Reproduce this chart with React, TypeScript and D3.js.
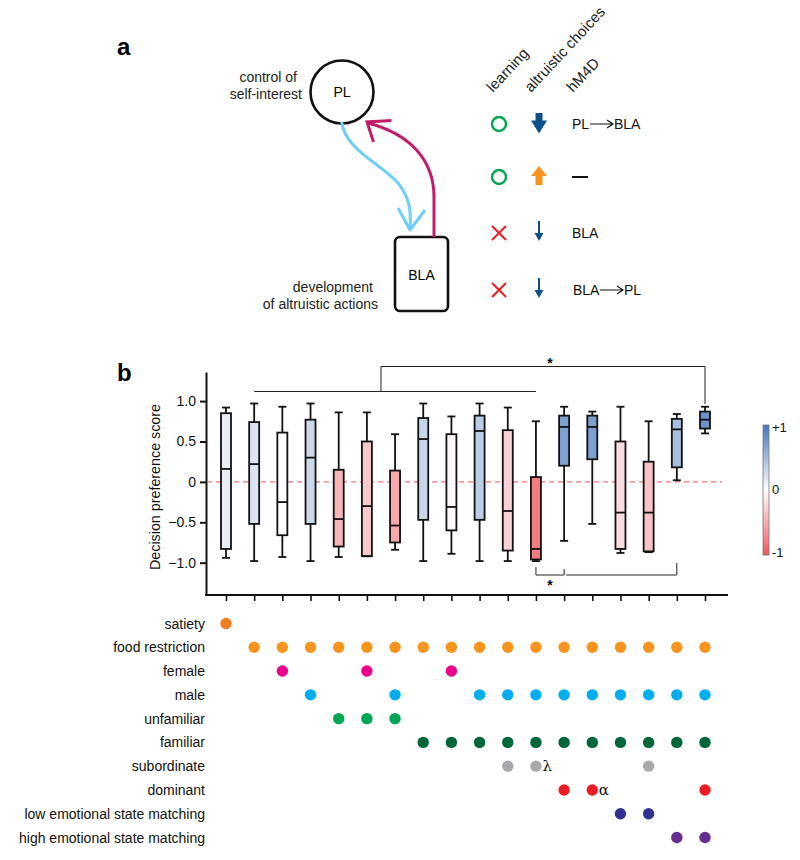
import * as d3 from "d3";
import { useEffect, useRef } from "react";

// panel b: one box per group (18 groups, left to right)
const whiskerLow = [-0.94, -0.98, -0.93, -0.98, -0.93, -0.92, -0.84, -0.98, -0.89, -0.98, -0.98, -0.98, -0.73, -0.52, -0.88, -0.87, 0.02, 0.6];
const quart1 = [-0.83, -0.52, -0.66, -0.52, -0.8, -0.92, -0.75, -0.47, -0.6, -0.47, -0.85, -0.96, 0.2, 0.28, -0.83, -0.86, 0.18, 0.66];
const medians = [0.16, 0.22, -0.25, 0.3, -0.46, -0.3, -0.54, 0.53, -0.31, 0.63, -0.36, -0.83, 0.68, 0.68, -0.38, -0.38, 0.65, 0.77];
const quart3 = [0.85, 0.74, 0.61, 0.77, 0.15, 0.5, 0.14, 0.79, 0.59, 0.82, 0.64, 0.06, 0.82, 0.82, 0.5, 0.25, 0.78, 0.87];
const whiskerHigh = [0.92, 0.97, 0.93, 0.97, 0.86, 0.86, 0.59, 0.97, 0.81, 0.97, 0.92, 0.75, 0.93, 0.87, 0.93, 0.75, 0.84, 0.93];
// score used for the box colour (colour bar -1..+1)
const colorScore = [0.12, 0.2, 0.0, 0.28, -0.45, -0.32, -0.52, 0.3, -0.05, 0.36, -0.27, -0.78, 0.7, 0.7, -0.2, -0.36, 0.48, 0.8];

const yTicks = [-1, -0.5, 0, 0.5, 1];

// experimental conditions (rows) and which groups (1-based) have them
const conditionNames = [
  "satiety", "food restriction", "female", "male", "unfamiliar", "familiar",
  "subordinate", "dominant", "low emotional state matching", "high emotional state matching",
];
const satietyGroups = [1];
const foodGroups = [2, 3, 4, 5, 6, 7, 8, 9, 10, 11, 12, 13, 14, 15, 16, 17, 18];
const femaleGroups = [3, 6, 9];
const maleGroups = [4, 7, 10, 11, 12, 13, 14, 15, 16, 17, 18];
const unfamiliarGroups = [5, 6, 7];
const familiarGroups = [8, 9, 10, 11, 12, 13, 14, 15, 16, 17, 18];
const subordinateGroups = [11, 12, 16];
const dominantGroups = [13, 14, 18];
const lowMatchGroups = [15, 16];
const highMatchGroups = [17, 18];
const conditionColors = ["#f47d22", "#f7941d", "#ec008c", "#00aeef", "#00a651", "#006838", "#a7a9ac", "#ed1c24", "#2e3192", "#662d91"];
const dotNotes = [{ row: 6, group: 12, text: "λ" }, { row: 7, group: 14, text: "α" }];

const FONT = "'Liberation Sans', Arial, Helvetica, sans-serif";

const App = () => {
  const ref = useRef<SVGSVGElement>(null);

  useEffect(() => {
    const svg = d3.select(ref.current);
    svg.selectAll("*").remove();
    svg.attr("font-family", FONT);
    drawPanelA(svg.append("g"));
    drawPanelB(svg.append("g"));
  }, []);

  return (
    <svg ref={ref} width={800} height={860} style={{ position: "absolute", left: 0, top: 0, background: "#fff" }} />
  );
};

const drawPanelA = (g: any) => {
  g.append("text").attr("x", 117).attr("y", 55).attr("font-size", 24).attr("font-weight", "bold").text("a");

  // PL node
  g.append("circle").attr("cx", 342).attr("cy", 92).attr("r", 31.5)
    .attr("fill", "none").attr("stroke", "#111").attr("stroke-width", 2.6);
  g.append("text").attr("x", 342).attr("y", 97).attr("text-anchor", "middle").attr("font-size", 14).text("PL");
  g.append("text").attr("x", 297).attr("y", 82).attr("text-anchor", "end").attr("font-size", 14).attr("fill", "#222").text("control of");
  g.append("text").attr("x", 302).attr("y", 99).attr("text-anchor", "end").attr("font-size", 14).attr("fill", "#222").text("self-interest");

  // BLA node
  g.append("rect").attr("x", 395).attr("y", 237).attr("width", 53).attr("height", 74).attr("rx", 5)
    .attr("fill", "none").attr("stroke", "#111").attr("stroke-width", 2.6);
  g.append("text").attr("x", 421.5).attr("y", 280).attr("text-anchor", "middle").attr("font-size", 14).text("BLA");
  g.append("text").attr("x", 373).attr("y", 292).attr("text-anchor", "end").attr("font-size", 14).attr("fill", "#222").text("development");
  g.append("text").attr("x", 378).attr("y", 309).attr("text-anchor", "end").attr("font-size", 14).attr("fill", "#222").text("of altruistic actions");

  // PL -> BLA (light blue)
  g.append("path").attr("d", "M341.7,122 C345,150 383,165 398,183 C411,199 411,214 410,229")
    .attr("fill", "none").attr("stroke", "#6dcff6").attr("stroke-width", 3);
  g.append("path").attr("d", "M398,208 L410,230 L425,210")
    .attr("fill", "none").attr("stroke", "#6dcff6").attr("stroke-width", 3).attr("stroke-linejoin", "round");

  // BLA -> PL (magenta)
  g.append("path").attr("d", "M434,237 L434,197 C434,160 410,134 368,123")
    .attr("fill", "none").attr("stroke", "#c21c6b").attr("stroke-width", 3);
  g.append("path").attr("d", "M373.5,142 L367,122 L391.5,120.5")
    .attr("fill", "none").attr("stroke", "#c21c6b").attr("stroke-width", 3).attr("stroke-linejoin", "miter");

  // legend headers
  const headers = [{ x: 493, t: "learning" }, { x: 531, t: "altruistic choices" }, { x: 573, t: "hM4D" }];
  headers.forEach(h => {
    g.append("text").attr("transform", `translate(${h.x},93) rotate(-47)`).attr("font-size", 15).attr("fill", "#222").text(h.t);
  });

  const rows = [124, 177, 233, 290];
  const green = "#00a651", red = "#ed1c24", navy = "#0d4f8b";
  // learning column
  [0, 1].forEach(i => g.append("circle").attr("cx", 499).attr("cy", rows[i]).attr("r", 7)
    .attr("fill", "none").attr("stroke", green).attr("stroke-width", 2.4));
  [2, 3].forEach(i => g.append("path")
    .attr("d", `M492,${rows[i] - 7} L506,${rows[i] + 7} M506,${rows[i] - 7} L492,${rows[i] + 7}`)
    .attr("stroke", red).attr("stroke-width", 2));
  // altruistic choices column
  const c = 539;
  g.append("path").attr("fill", navy)
    .attr("d", `M${c - 3.5},113 H${c + 3.5} V120.5 H${c + 8} L${c},133.5 L${c - 8},120.5 H${c - 3.5} Z`);
  g.append("path").attr("fill", "#f7941d")
    .attr("d", `M${c - 3.5},185 H${c + 3.5} V176 H${c + 8} L${c},166 L${c - 8},176 H${c - 3.5} Z`);
  [2, 3].forEach(i => {
    const y0 = rows[i];
    g.append("line").attr("x1", c).attr("x2", c).attr("y1", y0 - 12).attr("y2", y0 + 2)
      .attr("stroke", navy).attr("stroke-width", 2);
    g.append("path").attr("d", `M${c - 4.5},${y0} L${c + 4.5},${y0} L${c},${y0 + 8} Z`).attr("fill", navy);
  });
  // hM4D column
  const arrowText = (x: number, y: number, a: string, b: string, w1: number) => {
    g.append("text").attr("x", x).attr("y", y + 5).attr("font-size", 14).attr("fill", "#111").text(a);
    const ax = x + w1 + 1;
    g.append("path").attr("d", `M${ax},${y} H${ax + 23} M${ax + 17},${y - 4} L${ax + 23},${y} L${ax + 17},${y + 4}`)
      .attr("fill", "none").attr("stroke", "#111").attr("stroke-width", 1.1);
    g.append("text").attr("x", ax + 24).attr("y", y + 5).attr("font-size", 14).attr("fill", "#111").text(b);
  };
  arrowText(572, rows[0], "PL", "BLA", 17);
  g.append("line").attr("x1", 572).attr("x2", 588).attr("y1", rows[1]).attr("y2", rows[1]).attr("stroke", "#111").attr("stroke-width", 2);
  g.append("text").attr("x", 572).attr("y", rows[2] + 5).attr("font-size", 14).attr("fill", "#111").text("BLA");
  arrowText(573, rows[3], "BLA", "PL", 26);
};

const drawPanelB = (g: any) => {
  g.append("text").attr("x", 117).attr("y", 381).attr("font-size", 24).attr("font-weight", "bold").text("b");

  const groups = d3.range(whiskerLow.length);
  const x = d3.scalePoint<number>().domain(groups).range([226, 705]);
  const xAt = (i: number) => (x(0) as number) + i * x.step();
  const y = d3.scaleLinear().domain([-1.4, 1.36]).range([595, 372]);
  const color = d3.scaleLinear<string>().domain([-1, 0, 1]).range(["#f0575e", "#ffffff", "#4677bd"]);

  // y axis
  const yAxis = g.append("g").attr("transform", "translate(206,0)")
    .call(d3.axisLeft(y).tickValues(yTicks).tickSize(6).tickSizeOuter(0).tickPadding(4)
      .tickFormat((d: any) => (d === 0 ? "0" : d3.format(".1f")(d))));
  yAxis.selectAll("path,line").attr("stroke", "#111").attr("stroke-width", 2);
  yAxis.selectAll("text").attr("font-size", 14).attr("font-family", FONT).attr("fill", "#111");

  // x axis
  g.append("line").attr("x1", 205).attr("x2", 728).attr("y1", 595).attr("y2", 595).attr("stroke", "#111").attr("stroke-width", 2);
  const xAxis = g.append("g").attr("transform", "translate(0,595)")
    .call(d3.axisBottom(x).tickSize(6).tickFormat(() => ""));
  xAxis.select(".domain").remove();
  xAxis.selectAll("line").attr("stroke", "#111").attr("stroke-width", 1.6);

  g.append("text").attr("transform", "translate(160,487) rotate(-90)").attr("text-anchor", "middle")
    .attr("font-size", 14.3).attr("fill", "#111").text("Decision preference score");

  // zero line
  g.append("line").attr("x1", 207).attr("x2", 722).attr("y1", y(0)).attr("y2", y(0))
    .attr("stroke", "#ef7070").attr("stroke-width", 1.3).attr("stroke-dasharray", "5,4");

  // boxes
  const bw = 10, cw = 8, sw = 1.8;
  const box = g.append("g").selectAll("g").data(groups).enter().append("g");
  box.append("line").attr("x1", (i: number) => x(i)).attr("x2", (i: number) => x(i))
    .attr("y1", (i: number) => y(whiskerHigh[i])).attr("y2", (i: number) => y(whiskerLow[i]))
    .attr("stroke", "#111").attr("stroke-width", sw);
  box.append("rect")
    .attr("x", (i: number) => (x(i) as number) - bw / 2).attr("width", bw)
    .attr("y", (i: number) => y(quart3[i])).attr("height", (i: number) => y(quart1[i]) - y(quart3[i]))
    .attr("fill", (i: number) => color(colorScore[i])).attr("stroke", "#111").attr("stroke-width", sw);
  box.append("line").attr("x1", (i: number) => (x(i) as number) - bw / 2).attr("x2", (i: number) => (x(i) as number) + bw / 2)
    .attr("y1", (i: number) => y(medians[i])).attr("y2", (i: number) => y(medians[i]))
    .attr("stroke", "#111").attr("stroke-width", sw);
  [whiskerHigh, whiskerLow].forEach(arr => {
    box.append("line").attr("x1", (i: number) => (x(i) as number) - cw / 2).attr("x2", (i: number) => (x(i) as number) + cw / 2)
      .attr("y1", (i: number) => y(arr[i])).attr("y2", (i: number) => y(arr[i]))
      .attr("stroke", "#111").attr("stroke-width", sw);
  });

  // significance brackets
  const br = (d: string) => g.append("path").attr("d", d).attr("fill", "none").attr("stroke", "#222").attr("stroke-width", 1);
  br(`M${xAt(1)},391.5 H${xAt(11)}`);
  br(`M${xAt(5.5)},391.5 V366.5 H${xAt(17)} V404`);
  br(`M${xAt(11)},567 V575 H${xAt(12)} V569`);
  br(`M${xAt(12) + 2},575 H${xAt(16)} V563`);
  [368, 590].forEach(yy => g.append("text").attr("x", xAt(11.5)).attr("y", yy).attr("text-anchor", "middle")
    .attr("font-size", 14).attr("font-weight", "bold").text("*"));

  // colour bar
  const defs = g.append("defs");
  const grad = defs.append("linearGradient").attr("id", "cbar").attr("x1", 0).attr("x2", 0).attr("y1", 0).attr("y2", 1);
  [1, 0.5, 0, -0.5, -1].forEach((v, k) => grad.append("stop").attr("offset", k / 4).attr("stop-color", color(v)));
  g.append("rect").attr("x", 763).attr("y", 425).attr("width", 6).attr("height", 130)
    .attr("fill", "url(#cbar)").attr("stroke", "#777").attr("stroke-width", 0.8);
  [{ t: "+1", yy: 427 }, { t: "0", yy: 489 }, { t: "-1", yy: 552 }].forEach(l =>
    g.append("text").attr("x", 772).attr("y", l.yy + 5).attr("font-size", 13).attr("fill", "#111").text(l.t));

  // condition matrix
  const memberships = [satietyGroups, foodGroups, femaleGroups, maleGroups, unfamiliarGroups, familiarGroups,
    subordinateGroups, dominantGroups, lowMatchGroups, highMatchGroups];
  const rowY = d3.scalePoint<string>().domain(conditionNames).range([623.5, 837.5]);
  conditionNames.forEach((name, r) => {
    g.append("text").attr("x", 205).attr("y", (rowY(name) as number) + 5).attr("text-anchor", "end")
      .attr("font-size", 14).attr("fill", "#111").text(name);
    g.append("g").selectAll("circle").data(memberships[r]).enter().append("circle")
      .attr("cx", (k: number) => x(k - 1)).attr("cy", rowY(name)).attr("r", 5.7).attr("fill", conditionColors[r]);
  });
  dotNotes.forEach(n => g.append("text").attr("x", (x(n.group - 1) as number) + 6.5)
    .attr("y", (rowY(conditionNames[n.row]) as number) + 5).attr("font-size", 15)
    .attr("font-family", "'DejaVu Serif', serif").attr("fill", "#111").text(n.text));
};

export default App;
